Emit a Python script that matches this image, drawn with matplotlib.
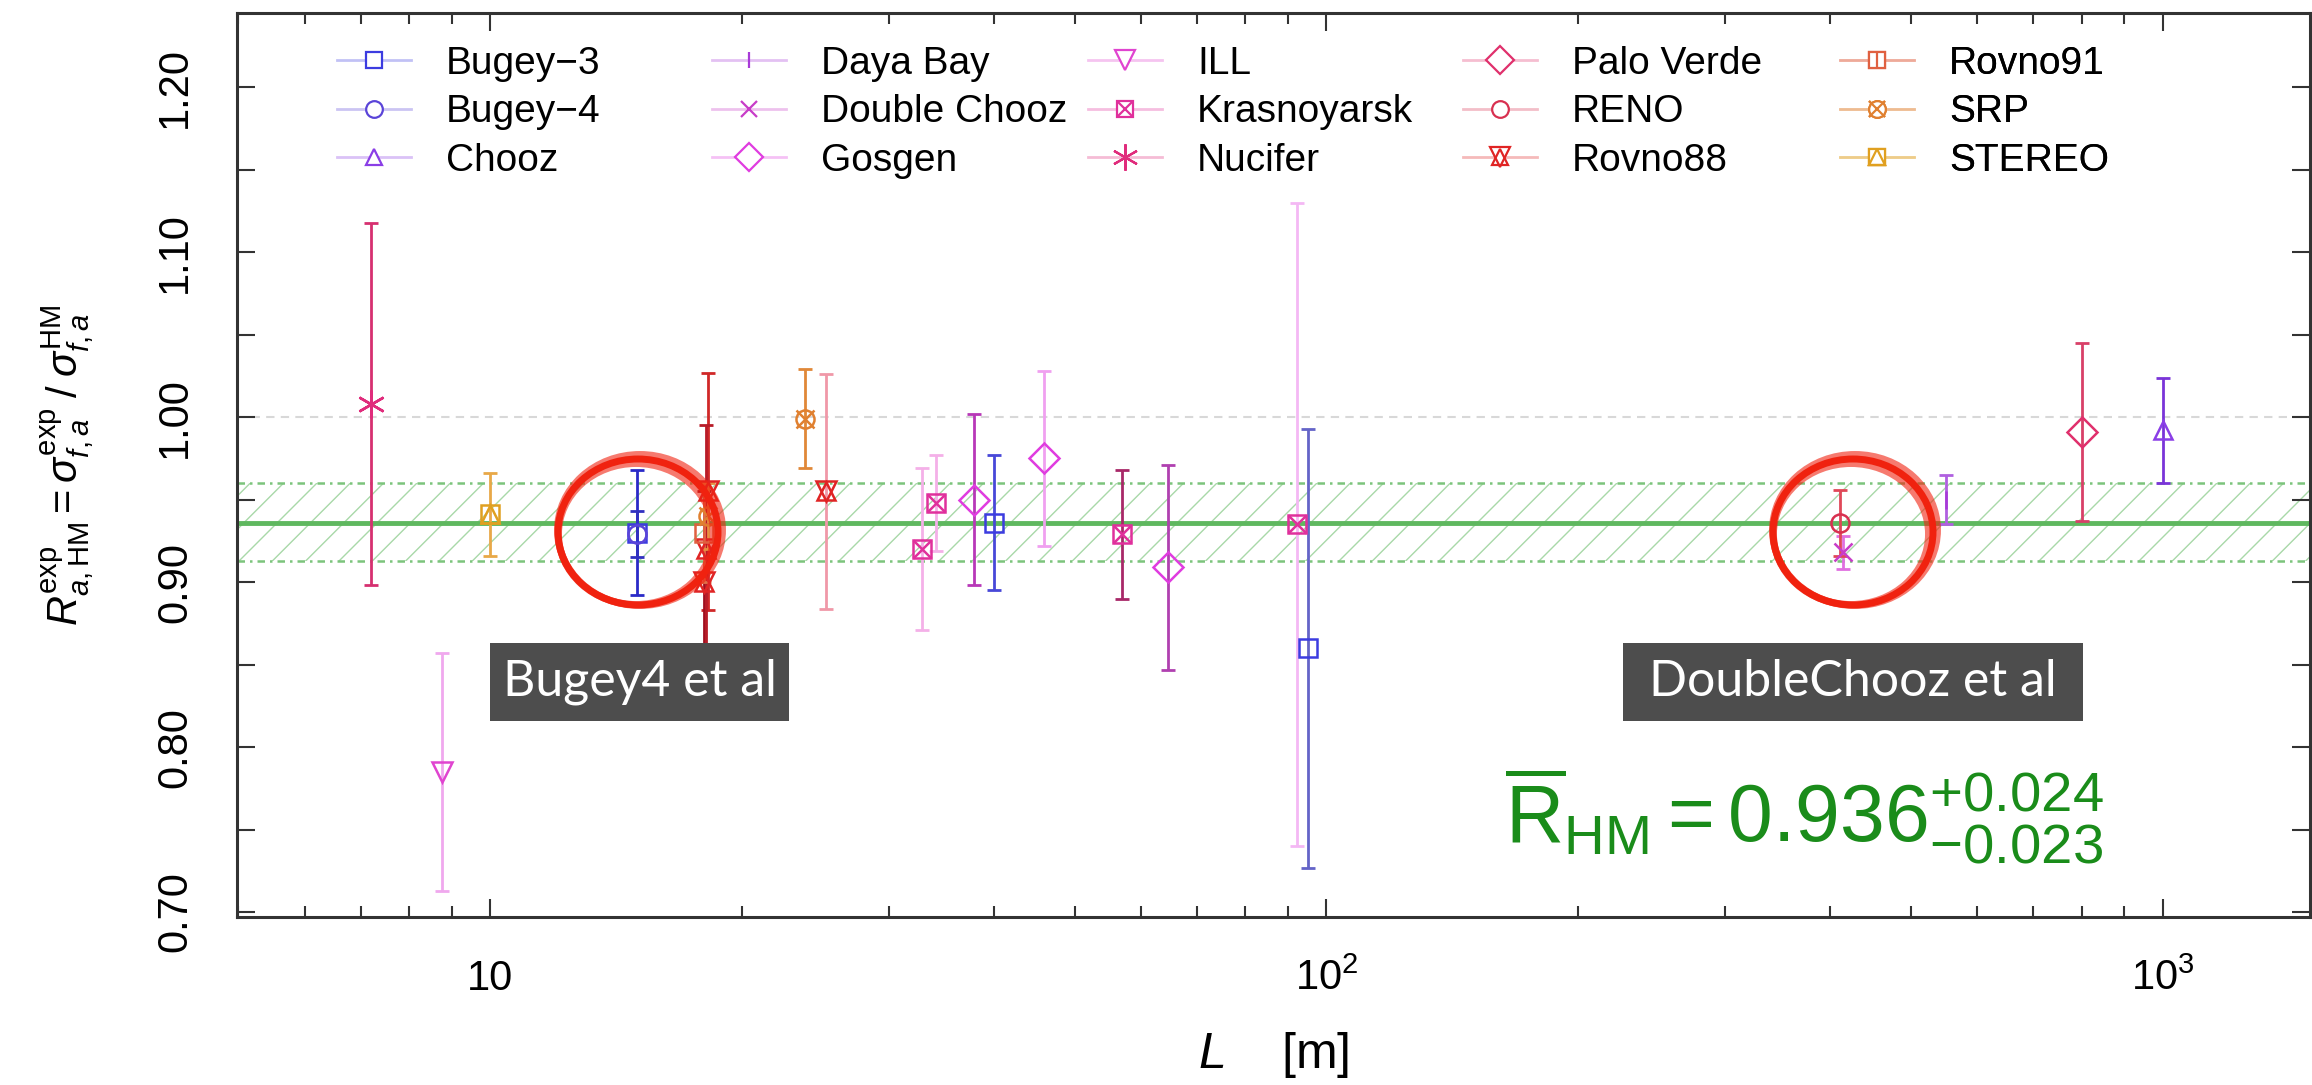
import matplotlib
matplotlib.use("Agg")
import matplotlib.pyplot as plt
from matplotlib.lines import Line2D
from matplotlib.patches import Ellipse, Rectangle
from matplotlib.legend_handler import HandlerTuple
from matplotlib.ticker import FixedLocator, NullFormatter, FuncFormatter

plt.rcParams['font.family'] = ['Liberation Sans', 'DejaVu Sans']
plt.rcParams['mathtext.fontset'] = 'custom'
plt.rcParams['mathtext.rm'] = 'Liberation Sans'
plt.rcParams['mathtext.it'] = 'Liberation Sans:italic'
plt.rcParams['mathtext.bf'] = 'Liberation Sans:bold'
plt.rcParams['hatch.linewidth'] = 1.0

# baseline L [m], measured ratio R_exp/HM, symmetric uncertainty
bugey3_L = [15.0, 40.0, 95.0]
bugey3_R = [0.930, 0.936, 0.860]
bugey3_err = [0.038, 0.041, 0.133]

bugey4_L = [15.0]
bugey4_R = [0.929]
bugey4_err = [0.014]

chooz_L = [1000.0]
chooz_R = [0.992]
chooz_err = [0.032]

dayabay_L = [550.0]
dayabay_R = [0.950]
dayabay_err = [0.015]

dchooz_L = [415.0]
dchooz_R = [0.918]
dchooz_err = [0.010]

gosgen_L = [37.9, 45.9, 64.7]
gosgen_R = [0.950, 0.975, 0.909]
gosgen_err = [0.052, 0.053, 0.062]

ill_L = [8.76]
ill_R = [0.785]
ill_err = [0.072]

krasn_L = [32.8, 34.1, 57.0, 92.3]
krasn_R = [0.920, 0.948, 0.929, 0.935]
krasn_err = [0.049, 0.029, 0.039, 0.195]

nucifer_L = [7.2]
nucifer_R = [1.008]
nucifer_err = [0.110]

paloverde_L = [800.0]
paloverde_R = [0.991]
paloverde_err = [0.054]

reno_L = [411.0]
reno_R = [0.936]
reno_err = [0.020]

rovno88_L = [18.2, 18.0, 18.1, 25.2]
rovno88_R = [0.955, 0.900, 0.920, 0.955]
rovno88_err = [0.072, 0.055, 0.075, 0.071]

rovno91_L = [18.0]
rovno91_R = [0.930]
rovno91_err = [0.030]

srp_L = [18.2, 23.8]
srp_R = [0.940, 0.999]
srp_err = [0.020, 0.030]

stereo_L = [10.0]
stereo_R = [0.941]
stereo_err = [0.025]

# averaged ratio and its band
r_mean = 0.936
r_up = 0.024
r_down = 0.023

y_ticks = [0.70, 0.80, 0.90, 1.00, 1.10, 1.20]
x_ticks = [10, 100, 1000]
x_ticklabels = ['10', '$10^2$', '$10^3$']

data = {
    'Bugey\u22123': (bugey3_L, bugey3_R, bugey3_err),
    'Bugey\u22124': (bugey4_L, bugey4_R, bugey4_err),
    'Chooz': (chooz_L, chooz_R, chooz_err),
    'Daya Bay': (dayabay_L, dayabay_R, dayabay_err),
    'Double Chooz': (dchooz_L, dchooz_R, dchooz_err),
    'Gosgen': (gosgen_L, gosgen_R, gosgen_err),
    'ILL': (ill_L, ill_R, ill_err),
    'Krasnoyarsk': (krasn_L, krasn_R, krasn_err),
    'Nucifer': (nucifer_L, nucifer_R, nucifer_err),
    'Palo Verde': (paloverde_L, paloverde_R, paloverde_err),
    'RENO': (reno_L, reno_R, reno_err),
    'Rovno88': (rovno88_L, rovno88_R, rovno88_err),
    'Rovno91': (rovno91_L, rovno91_R, rovno91_err),
    'SRP': (srp_L, srp_R, srp_err),
    'STEREO': (stereo_L, stereo_R, stereo_err),
}

# marker colour, marker shapes, error-bar colour for each point
asterisk = (6, 2, 0)
styles = {
    'Bugey\u22123': ('#3c3ce0', ['s'], ['#2a2ac8', '#4848d8', '#6464c8']),
    'Bugey\u22124': ('#5a44d8', ['o'], ['#3030c0']),
    'Chooz': ('#8a3ee6', ['^'], ['#7a34d8']),
    'Daya Bay': ('#a83ad8', ['|'], ['#b060e0']),
    'Double Chooz': ('#c83cc8', ['x'], ['#e070e0']),
    'Gosgen': ('#e03ce0', ['D'], ['#b838b8', '#f0a0f0', '#b040b0']),
    'ILL': ('#e044d0', ['v'], ['#f0a8ee']),
    'Krasnoyarsk': ('#e0309c', ['s', 'x'], ['#f4b0e8', '#f4b0e8', '#a82868', '#f4b8f4']),
    'Nucifer': ('#e02c7c', [asterisk], ['#d63070']),
    'Palo Verde': ('#e0306c', ['D'], ['#d84068']),
    'RENO': ('#d83050', ['o'], ['#e04858']),
    'Rovno88': ('#e02424', ['^', 'v'], ['#d02828', '#a01020', '#b81c28', '#f098a8']),
    'Rovno91': ('#e06040', ['s', '|'], ['#e07048']),
    'SRP': ('#e08030', ['o', 'x'], ['#e89040', '#e08838']),
    'STEREO': ('#e0a020', ['s', '^'], ['#e8a848']),
}
marker_size = {'D': 15, 'v': 15, asterisk: 20}

W, H = 2312, 1085
fig = plt.figure(figsize=(W / 100, H / 100), dpi=100)
ax = fig.add_axes([237 / W, 1 - 917 / H, (2310 - 237) / W, (917 - 13) / H])
ax.set_xscale('log')
ax.set_xlim(4.98, 1500)
ax.set_ylim(0.697, 1.245)

# hatched uncertainty band around the mean
green = '#5fb85f'
ax.fill_between([4, 2000], r_mean - r_down, r_mean + r_up, facecolor='none',
                edgecolor='#a8d8a8', hatch='/', lw=0, zorder=1)
ax.axhline(r_mean + r_up, color='#7cc47c', ls=(0, (3, 2, 1, 2)), lw=1.8, zorder=1)
ax.axhline(r_mean - r_down, color='#7cc47c', ls=(0, (3, 2, 1, 2)), lw=1.8, zorder=1)
ax.axhline(r_mean, color=green, lw=3.5, zorder=2)
ax.axhline(1.0, color='#d8d8d8', ls=(0, (4, 3)), lw=1.5, zorder=1)

handles = []
for name, (L, R, err) in data.items():
    color, markers, bar_colors = styles[name]
    for x, y, e, bc in zip(L, R, err, bar_colors):
        ax.errorbar([x], [y], yerr=[e], fmt='none', ecolor=bc, elinewidth=2.0,
                    capsize=5, capthick=2.0, zorder=3)
    for m in markers:
        ax.plot(L, R, ls='none', marker=m, mfc='none', mec=color,
                ms=marker_size.get(m, 13), mew=1.8, zorder=4)
    light = color + '50'
    parts = []
    for i, m in enumerate(markers):
        parts.append(Line2D([], [], color=light, lw=2 if i == 0 else 0, marker=m,
                            mfc='white' if i == 0 else 'none', mec=color,
                            ms=marker_size.get(m, 13) - 1, mew=1.6))
    handles.append((tuple(parts), name))

# legend in five columns of three
col_x = [337, 712, 1088, 1463, 1840]
for c in range(5):
    chunk = handles[3 * c:3 * c + 3]
    leg = ax.legend([h for h, _ in chunk], [n for _, n in chunk],
                    handler_map={tuple: HandlerTuple(ndivide=1, pad=0)},
                    loc='upper left',
                    bbox_to_anchor=((col_x[c] - 237) / 2073, 1 - (46 - 13) / 904),
                    frameon=False, fontsize=28, handlelength=1.9, handletextpad=0.9,
                    labelspacing=0.32, borderpad=0, borderaxespad=0)
    ax.add_artist(leg)

# axes styling
for s in ax.spines.values():
    s.set_linewidth(2.2)
    s.set_color('#333333')
ax.xaxis.set_major_locator(FixedLocator(x_ticks))
ax.set_xticklabels(x_ticklabels)
ax.xaxis.set_minor_formatter(NullFormatter())
ax.yaxis.set_major_locator(FixedLocator(y_ticks))
ax.yaxis.set_minor_locator(FixedLocator([0.75, 0.85, 0.95, 1.05, 1.15]))
ax.yaxis.set_major_formatter(FuncFormatter(lambda v, p: f'{v:.2f}'))
ax.tick_params(which='both', direction='in', top=True, right=True, width=1.5, color='#333333')
ax.tick_params(which='major', length=13, labelsize=30, pad=30)
ax.tick_params(which='minor', length=8)
ax.tick_params(axis='y', which='minor', length=13)
for lab in ax.get_yticklabels():
    lab.set_rotation(90)
    lab.set_va('center')

ax.set_ylabel(r'$R^{\rm exp}_{a,\rm HM} = \sigma^{\rm exp}_{f,a}\;/\;\sigma^{\rm HM}_{f,a}$', fontsize=30)
ax.yaxis.set_label_coords(-0.068, 0.5)
ax.set_xlabel(r'$L$    [m]', fontsize=36)
ax.xaxis.set_label_coords(0.5, -0.125)

# averaged value
ax.text((1505 - 237) / 2073, 1 - (842 - 13) / 904,
        r'$\overline{\rm R}_{\rm HM} = 0.936^{+0.024}_{-0.023}$',
        transform=ax.transAxes, fontsize=58, color='#1a8c1a', ha='left', va='baseline')

# highlighted groups
boxes = [((490, 643, 789, 721), 'Bugey4 et al'),
         ((1623, 643, 2083, 721), 'DoubleChooz et al')]
for (x0, y0, x1, y1), txt in boxes:
    fig.patches.append(Rectangle((x0 / W, 1 - y1 / H), (x1 - x0) / W, (y1 - y0) / H,
                                 transform=fig.transFigure, facecolor='#4d4d4d',
                                 edgecolor='none', zorder=5))
    fig.text((x0 + x1) / 2 / W, 1 - (y0 + y1) / 2 / H, txt, color='white',
             fontsize=36, family=['Lato', 'DejaVu Sans'], weight='normal',
             ha='center', va='center', zorder=6)

for cx, cy in [(638, 532), (1853, 532)]:
    for dx, dy, dw, a in [(0, 0, 0, 1.0), (2, -2, 5, 0.6), (-2, 2, -5, 0.6)]:
        fig.patches.append(Ellipse(((cx + dx) / W, 1 - (cy + dy) / H), (160 + dw) / W, (146 + dw) / H,
                                   transform=fig.transFigure, fill=False,
                                   edgecolor='#f0220f', lw=5, alpha=a, zorder=7))

fig.savefig('out.png', dpi=100)
